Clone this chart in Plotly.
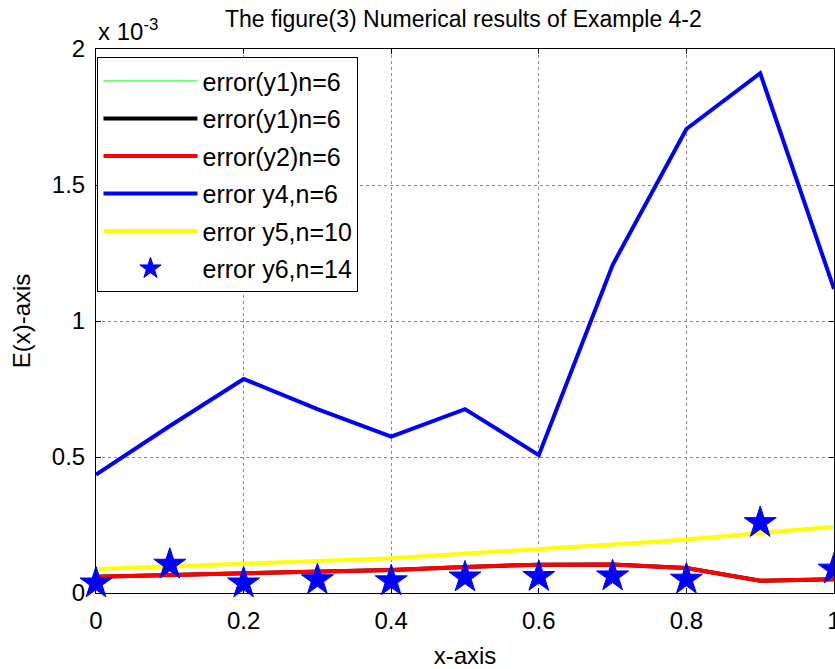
import plotly.graph_objects as go

# x positions
x_vals = [0.0, 0.1, 0.2, 0.3, 0.4, 0.5, 0.6, 0.7, 0.8, 0.9, 1.0]

# values in units of 1e-3
y1_green_e3 = [0.060, 0.066, 0.072, 0.078, 0.085, 0.096, 0.104, 0.105, 0.092, 0.045, 0.051]
y1_black_e3 = [0.060, 0.066, 0.072, 0.078, 0.085, 0.096, 0.104, 0.105, 0.092, 0.045, 0.051]
y2_red_e3 = [0.060, 0.066, 0.072, 0.078, 0.085, 0.096, 0.104, 0.105, 0.092, 0.045, 0.051]
y4_blue_e3 = [0.435, 0.614, 0.787, 0.676, 0.575, 0.676, 0.507, 1.206, 1.706, 1.911, 1.118]
y5_yellow_e3 = [0.088, 0.098, 0.109, 0.118, 0.128, 0.145, 0.161, 0.178, 0.197, 0.219, 0.244]
y6_star_e3 = [0.036, 0.105, 0.036, 0.048, 0.044, 0.058, 0.060, 0.062, 0.050, 0.258, 0.087]

y_tick_vals = [0, 0.5, 1, 1.5, 2]
y_tick_text = ["0", "0.5", "1", "1.5", "2"]
x_tick_vals = [0, 0.2, 0.4, 0.6, 0.8, 1]
x_tick_text = ["0", "0.2", "0.4", "0.6", "0.8", "1"]

names = ["error(y1)n=6", "error(y1)n=6", "error(y2)n=6", "error y4,n=6", "error y5,n=10", "error y6,n=14"]

FS = 24

fig = go.Figure()
fig.add_trace(go.Scatter(x=x_vals, y=y1_green_e3, mode="lines", name=names[0],
                         line=dict(color="#00ff00", width=1), legendgroup="a"))
fig.add_trace(go.Scatter(x=x_vals, y=y1_black_e3, mode="lines", name=names[1],
                         line=dict(color="black", width=4), legendgroup="b"))
fig.add_trace(go.Scatter(x=x_vals, y=y2_red_e3, mode="lines", name=names[2],
                         line=dict(color="#ff0000", width=4), legendgroup="c"))
fig.add_trace(go.Scatter(x=x_vals, y=y4_blue_e3, mode="lines", name=names[3],
                         line=dict(color="#0000ff", width=4), legendgroup="d"))
fig.add_trace(go.Scatter(x=x_vals, y=y5_yellow_e3, mode="lines", name=names[4],
                         line=dict(color="#ffff00", width=4), legendgroup="e"))
fig.add_trace(go.Scatter(x=x_vals, y=y6_star_e3, mode="markers", name=names[5],
                         marker=dict(symbol="star", size=24, color="#0000ff",
                                     line=dict(color="#0000ff", width=1)),
                         legendgroup="f", cliponaxis=False))

axis_common = dict(showline=True, linecolor="black", linewidth=1, mirror="ticks",
                   ticks="inside", ticklen=5, tickcolor="black",
                   showgrid=True, gridcolor="#8a8a8a", griddash="dot", gridwidth=1,
                   zeroline=False, tickfont=dict(size=FS, color="black"),
                   ticklabeloverflow="allow", automargin=False)

fig.update_xaxes(range=[0, 1], tickvals=x_tick_vals, ticktext=x_tick_text,
                 ticklabelstandoff=6,
                 title=dict(text="x-axis", font=dict(size=FS, color="black"), standoff=14),
                 **axis_common)
fig.update_yaxes(range=[0, 2], tickvals=y_tick_vals, ticktext=y_tick_text,
                 ticklabelstandoff=5,
                 title=dict(text="E(x)-axis", font=dict(size=FS, color="black"), standoff=14),
                 **axis_common)

fig.update_layout(
    width=835, height=669,
    margin=dict(l=96, r=1, t=49, b=76, autoexpand=False),
    paper_bgcolor="white", plot_bgcolor="white",
    font=dict(family="Liberation Sans, Arial, sans-serif", color="black"),
    title=dict(text="The figure(3) Numerical results of Example 4-2", x=0.555, xanchor="center",
               y=0.971, yanchor="middle", font=dict(size=23, color="black")),
    legend=dict(x=0.002, y=0.985, xanchor="left", yanchor="top",
                bgcolor="white", bordercolor="black", borderwidth=1,
                font=dict(size=25, color="black"), itemwidth=94,
                tracegroupgap=2),
    showlegend=True,
    annotations=[dict(text="x 10<sup>-3</sup>", xref="paper", yref="paper",
                      x=0.0, y=1.0, xanchor="left", yanchor="bottom", yshift=2,
                      showarrow=False, font=dict(size=FS, color="black"))],
)

fig.write_html("out.html")
